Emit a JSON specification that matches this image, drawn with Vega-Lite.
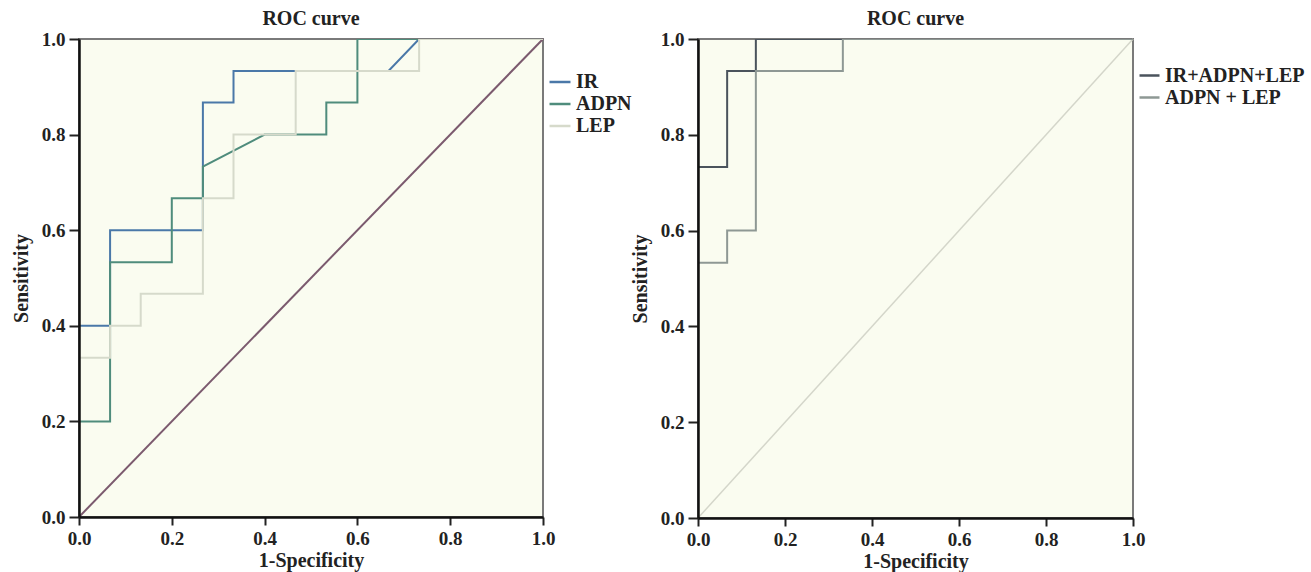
{
  "$schema": "https://vega.github.io/schema/vega-lite/v6.json",
  "padding": {"left": 10, "top": 8, "right": 0, "bottom": 0},
  "background": "white",
  "datasets": {
    "left": [
      {"curve": "IR", "i": 0, "fpr": 0, "tpr": 0},
      {"curve": "IR", "i": 1, "fpr": 0, "tpr": 0.4},
      {"curve": "IR", "i": 2, "fpr": 0.067, "tpr": 0.4},
      {"curve": "IR", "i": 3, "fpr": 0.067, "tpr": 0.6},
      {"curve": "IR", "i": 4, "fpr": 0.267, "tpr": 0.6},
      {"curve": "IR", "i": 5, "fpr": 0.267, "tpr": 0.867},
      {"curve": "IR", "i": 6, "fpr": 0.333, "tpr": 0.867},
      {"curve": "IR", "i": 7, "fpr": 0.333, "tpr": 0.933},
      {"curve": "IR", "i": 8, "fpr": 0.667, "tpr": 0.933},
      {"curve": "IR", "i": 9, "fpr": 0.733, "tpr": 1},
      {"curve": "IR", "i": 10, "fpr": 1, "tpr": 1},
      {"curve": "ADPN", "i": 0, "fpr": 0, "tpr": 0},
      {"curve": "ADPN", "i": 1, "fpr": 0, "tpr": 0.2},
      {"curve": "ADPN", "i": 2, "fpr": 0.067, "tpr": 0.2},
      {"curve": "ADPN", "i": 3, "fpr": 0.067, "tpr": 0.533},
      {"curve": "ADPN", "i": 4, "fpr": 0.2, "tpr": 0.533},
      {"curve": "ADPN", "i": 5, "fpr": 0.2, "tpr": 0.667},
      {"curve": "ADPN", "i": 6, "fpr": 0.267, "tpr": 0.667},
      {"curve": "ADPN", "i": 7, "fpr": 0.267, "tpr": 0.733},
      {"curve": "ADPN", "i": 8, "fpr": 0.4, "tpr": 0.8},
      {"curve": "ADPN", "i": 9, "fpr": 0.533, "tpr": 0.8},
      {"curve": "ADPN", "i": 10, "fpr": 0.533, "tpr": 0.867},
      {"curve": "ADPN", "i": 11, "fpr": 0.6, "tpr": 0.867},
      {"curve": "ADPN", "i": 12, "fpr": 0.6, "tpr": 1},
      {"curve": "ADPN", "i": 13, "fpr": 1, "tpr": 1},
      {"curve": "LEP", "i": 0, "fpr": 0, "tpr": 0},
      {"curve": "LEP", "i": 1, "fpr": 0, "tpr": 0.333},
      {"curve": "LEP", "i": 2, "fpr": 0.067, "tpr": 0.333},
      {"curve": "LEP", "i": 3, "fpr": 0.067, "tpr": 0.4},
      {"curve": "LEP", "i": 4, "fpr": 0.133, "tpr": 0.4},
      {"curve": "LEP", "i": 5, "fpr": 0.133, "tpr": 0.467},
      {"curve": "LEP", "i": 6, "fpr": 0.267, "tpr": 0.467},
      {"curve": "LEP", "i": 7, "fpr": 0.267, "tpr": 0.667},
      {"curve": "LEP", "i": 8, "fpr": 0.333, "tpr": 0.667},
      {"curve": "LEP", "i": 9, "fpr": 0.333, "tpr": 0.8},
      {"curve": "LEP", "i": 10, "fpr": 0.467, "tpr": 0.8},
      {"curve": "LEP", "i": 11, "fpr": 0.467, "tpr": 0.933},
      {"curve": "LEP", "i": 12, "fpr": 0.733, "tpr": 0.933},
      {"curve": "LEP", "i": 13, "fpr": 0.733, "tpr": 1},
      {"curve": "LEP", "i": 14, "fpr": 1, "tpr": 1}
    ],
    "right": [
      {"curve": "IR+ADPN+LEP", "i": 0, "fpr": 0, "tpr": 0},
      {"curve": "IR+ADPN+LEP", "i": 1, "fpr": 0, "tpr": 0.733},
      {"curve": "IR+ADPN+LEP", "i": 2, "fpr": 0.067, "tpr": 0.733},
      {"curve": "IR+ADPN+LEP", "i": 3, "fpr": 0.067, "tpr": 0.933},
      {"curve": "IR+ADPN+LEP", "i": 4, "fpr": 0.133, "tpr": 0.933},
      {"curve": "IR+ADPN+LEP", "i": 5, "fpr": 0.133, "tpr": 1},
      {"curve": "IR+ADPN+LEP", "i": 6, "fpr": 1, "tpr": 1},
      {"curve": "ADPN + LEP", "i": 0, "fpr": 0, "tpr": 0},
      {"curve": "ADPN + LEP", "i": 1, "fpr": 0, "tpr": 0.533},
      {"curve": "ADPN + LEP", "i": 2, "fpr": 0.067, "tpr": 0.533},
      {"curve": "ADPN + LEP", "i": 3, "fpr": 0.067, "tpr": 0.6},
      {"curve": "ADPN + LEP", "i": 4, "fpr": 0.133, "tpr": 0.6},
      {"curve": "ADPN + LEP", "i": 5, "fpr": 0.133, "tpr": 0.933},
      {"curve": "ADPN + LEP", "i": 6, "fpr": 0.333, "tpr": 0.933},
      {"curve": "ADPN + LEP", "i": 7, "fpr": 0.333, "tpr": 1},
      {"curve": "ADPN + LEP", "i": 8, "fpr": 1, "tpr": 1}
    ],
    "diag": [
      {"fpr": 0, "tpr": 0},
      {"fpr": 1, "tpr": 1}
    ]
  },
  "config": {
    "font": "Liberation Serif",
    "view": {"fill": "#fafcf0", "stroke": "#7a7a7a", "strokeWidth": 2},
    "axis": {
      "grid": false,
      "zindex": 1,
      "labelFlush": false,
      "domainColor": "#111",
      "domainWidth": 2.5,
      "tickColor": "#222",
      "tickWidth": 2,
      "labelFont": "Liberation Serif",
      "labelFontSize": 19,
      "labelFontWeight": "bold",
      "labelColor": "#222",
      "titleFont": "Liberation Serif",
      "titleFontSize": 20,
      "titleFontWeight": "bold",
      "titleColor": "#222"
    },
    "axisX": {"tickSize": 8, "labelPadding": 4, "titlePadding": 2},
    "axisY": {"tickSize": 10, "labelPadding": 4, "titlePadding": 10},
    "legend": {
      "labelFont": "Liberation Serif",
      "labelFontSize": 20,
      "labelFontWeight": "bold",
      "labelColor": "#222",
      "symbolType": "stroke",
      "symbolStrokeWidth": 2.5,
      "labelOffset": 4,
      "rowPadding": 0
    },
    "title": {"font": "Liberation Serif", "fontSize": 20, "fontWeight": "bold", "color": "#222", "offset": 1}
  },
  "resolve": {"scale": {"color": "independent"}},
  "spacing": -4,
  "hconcat": [
    {
      "title": "ROC curve",
      "width": 464,
      "height": 478,
      "layer": [
        {
          "data": {"name": "diag"},
          "mark": {"type": "line", "color": "#7b5a6e", "strokeWidth": 2},
          "encoding": {
            "x": {"field": "fpr", "type": "quantitative"},
            "y": {"field": "tpr", "type": "quantitative"}
          }
        },
        {
          "data": {"name": "left"},
          "mark": {"type": "line", "strokeWidth": 2, "interpolate": "linear", "clip": true},
          "encoding": {
            "x": {"field": "fpr", "type": "quantitative", "scale": {"domain": [0, 1], "nice": false},
              "axis": {"title": "1-Specificity", "format": ".1f", "values": [0, 0.2, 0.4, 0.6, 0.8, 1], "zindex": 2, "labelFlush": false}},
            "y": {"field": "tpr", "type": "quantitative", "scale": {"domain": [0, 1], "nice": false},
              "axis": {"title": "Sensitivity", "format": ".1f", "values": [0, 0.2, 0.4, 0.6, 0.8, 1], "zindex": 2, "labelFlush": false}},
            "color": {"field": "curve", "type": "nominal",
              "scale": {"domain": ["LEP", "ADPN", "IR"], "range": ["#d6dacb", "#4f8c7c", "#4a78a8"]},
              "legend": {"title": null, "orient": "none", "legendX": 469, "legendY": 31, "symbolSize": 440, "values": ["IR", "ADPN", "LEP"]}},
            "order": {"field": "i", "type": "quantitative"}
          }
        }
      ]
    },
    {
      "title": "ROC curve",
      "width": 435,
      "height": 479,
      "layer": [
        {
          "data": {"name": "diag"},
          "mark": {"type": "line", "color": "#d4d6ca", "strokeWidth": 1.5},
          "encoding": {
            "x": {"field": "fpr", "type": "quantitative"},
            "y": {"field": "tpr", "type": "quantitative"}
          }
        },
        {
          "data": {"name": "right"},
          "mark": {"type": "line", "strokeWidth": 2, "clip": true},
          "encoding": {
            "x": {"field": "fpr", "type": "quantitative", "scale": {"domain": [0, 1], "nice": false},
              "axis": {"title": "1-Specificity", "format": ".1f", "values": [0, 0.2, 0.4, 0.6, 0.8, 1], "zindex": 2, "labelFlush": false}},
            "y": {"field": "tpr", "type": "quantitative", "scale": {"domain": [0, 1], "nice": false},
              "axis": {"title": "Sensitivity", "format": ".1f", "values": [0, 0.2, 0.4, 0.6, 0.8, 1], "zindex": 2, "labelFlush": false}},
            "color": {"field": "curve", "type": "nominal",
              "scale": {"domain": ["ADPN + LEP", "IR+ADPN+LEP"], "range": ["#8e9894", "#4a535c"]},
              "legend": {"title": null, "orient": "none", "legendX": 440, "legendY": 25, "symbolSize": 400, "values": ["IR+ADPN+LEP", "ADPN + LEP"]}},
            "order": {"field": "i", "type": "quantitative"}
          }
        }
      ]
    }
  ]
}
